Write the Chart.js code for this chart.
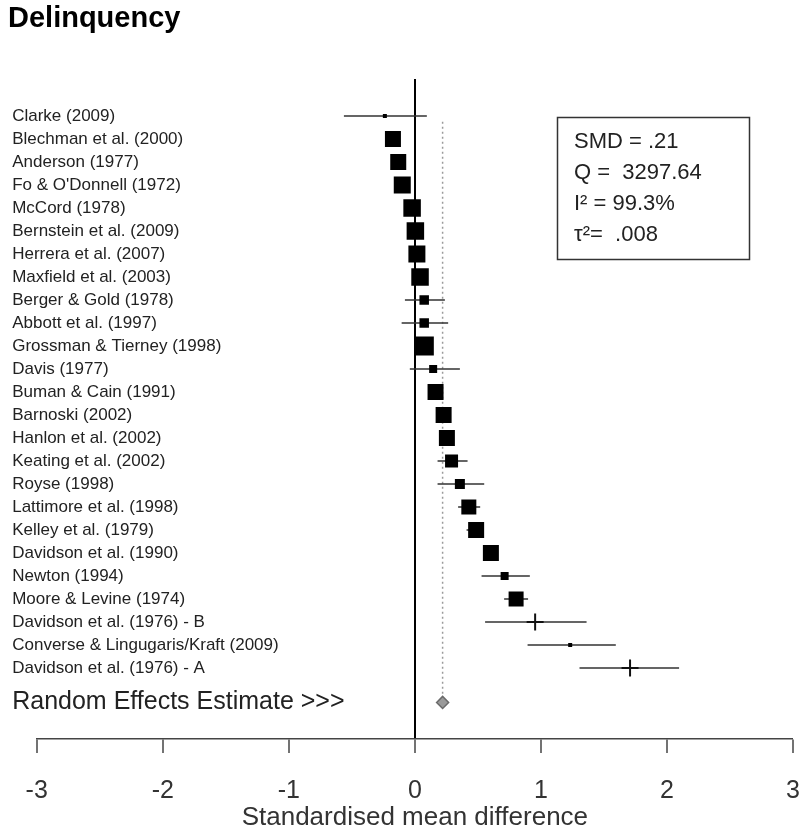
<!DOCTYPE html>
<html><head><meta charset="utf-8">
<style>html,body{margin:0;padding:0;background:#fff}canvas{display:block}</style>
<script src="https://cdn.jsdelivr.net/npm/chart.js@4.4.1/dist/chart.umd.min.js"></script>
</head><body>
<canvas id="c" width="800" height="836"></canvas>
<script>
// ---- data ----
const studies = [
  'Clarke (2009)', 'Blechman et al. (2000)', 'Anderson (1977)', "Fo & O'Donnell (1972)",
  'McCord (1978)', 'Bernstein et al. (2009)', 'Herrera et al. (2007)', 'Maxfield et al. (2003)',
  'Berger & Gold (1978)', 'Abbott et al. (1997)', 'Grossman & Tierney (1998)', 'Davis (1977)',
  'Buman & Cain (1991)', 'Barnoski (2002)', 'Hanlon et al. (2002)', 'Keating et al. (2002)',
  'Royse (1998)', 'Lattimore et al. (1998)', 'Kelley et al. (1979)', 'Davidson et al. (1990)',
  'Newton (1994)', 'Moore & Levine (1974)', 'Davidson et al. (1976) - B',
  'Converse & Lingugaris/Kraft (2009)', 'Davidson et al. (1976) - A'
];
const estimates = [-0.238, -0.174, -0.132, -0.100, -0.022, 0.004, 0.016, 0.041,
  0.074, 0.074, 0.075, 0.145, 0.164, 0.228, 0.254, 0.291,
  0.357, 0.428, 0.486, 0.603, 0.712, 0.803, 0.954, 1.232, 1.707];
const ciLower = [-0.563, -0.22, -0.18, -0.15, -0.07, -0.045, -0.03, -0.005,
  -0.079, -0.105, 0.03, -0.040, 0.12, 0.185, 0.21, 0.180,
  0.180, 0.343, 0.41, 0.56, 0.529, 0.708, 0.557, 0.894, 1.306];
const ciUpper = [0.095, -0.13, -0.09, -0.05, 0.02, 0.05, 0.06, 0.085,
  0.238, 0.264, 0.12, 0.357, 0.20, 0.27, 0.30, 0.418,
  0.550, 0.518, 0.545, 0.645, 0.912, 0.898, 1.362, 1.594, 2.096];
const markerSide = [4, 16, 16, 17, 17.5, 17.5, 17, 17.5,
  9.5, 9.5, 19, 8, 16, 16, 16, 13,
  10, 15, 16, 16, 8, 15, 17, 4, 17];
const markerKind = ['sq','sq','sq','sq','sq','sq','sq','sq',
  'sq','sq','sq','sq','sq','sq','sq','sq',
  'sq','sq','sq','sq','sq','sq','cross','sq','cross'];
const pooledLabel = 'Random Effects Estimate >>>';
const pooledEstimate = 0.22;
const xTicks = [-3, -2, -1, 0, 1, 2, 3];
const statLines = ['SMD = .21', 'Q =  3297.64', 'I\u00B2 = 99.3%', '\u03C4\u00B2=  .008'];

// ---- derived ----
const rows = studies.map((s, i) => i + 1);
const pooledRow = studies.length + 1.5;
const rowTicks = rows.concat([pooledRow]);
const rowLabels = studies.concat([pooledLabel]);
const ciData = [];
rows.forEach((r, i) => {
  ciData.push({x: ciLower[i], y: r}, {x: ciUpper[i], y: r}, {x: null, y: null});
});
const FAM = '"Liberation Sans", Arial, sans-serif';

const statBox = {
  id: 'statBox',
  beforeDraw(chart) {
    const ctx = chart.ctx;
    ctx.save(); ctx.fillStyle = '#fff'; ctx.fillRect(0, 0, chart.width, chart.height); ctx.restore();
  },
  afterDraw(chart) {
    const ctx = chart.ctx;
    ctx.save();
    ctx.strokeStyle = '#333'; ctx.lineWidth = 1.5;
    ctx.strokeRect(557.5, 117.5, 192, 142);
    ctx.fillStyle = '#222';
    ctx.font = '22px ' + FAM;
    ctx.textBaseline = 'middle';
    statLines.forEach((t, i) => ctx.fillText(t, 574, 142 + i * 31));
    ctx.restore();
  }
};

new Chart(document.getElementById('c'), {
  type: 'scatter',
  data: {
    datasets: [
      {
        data: rows.map((r, i) => ({x: estimates[i], y: r})),
        pointStyle: c => markerKind[c.dataIndex] === 'cross' ? 'cross' : 'rect',
        pointRadius: c => markerKind[c.dataIndex] === 'cross' ? markerSide[c.dataIndex] / 2 : markerSide[c.dataIndex] / Math.SQRT2,
        pointBackgroundColor: '#000',
        pointBorderColor: '#111',
        pointBorderWidth: c => markerKind[c.dataIndex] === 'cross' ? 2 : 0,
        order: 0
      },
      {
        data: [{x: pooledEstimate, y: pooledRow}],
        pointStyle: 'rectRot', pointRadius: 6,
        pointBackgroundColor: '#9a9a9a', pointBorderColor: '#6a6a6a', pointBorderWidth: 1.5,
        order: 1
      },
      {
        data: ciData, showLine: true, spanGaps: false, pointRadius: 0,
        borderColor: '#333', borderWidth: 1.5, order: 2
      },
      {
        data: [{x: pooledEstimate, y: 1.25}, {x: pooledEstimate, y: pooledRow}],
        showLine: true, pointRadius: 0, borderColor: '#9a9a9a', borderWidth: 1.5,
        borderDash: [2, 3], order: 3
      }
    ]
  },
  options: {
    responsive: false, animation: false,
    layout: {autoPadding: false, padding: {left: 8, right: 6.7, top: 0, bottom: 0}},
    plugins: {
      legend: {display: false}, tooltip: {enabled: false},
      title: {
        display: true, text: 'Delinquency', align: 'start', color: '#000',
        font: {family: FAM, size: 29, weight: 'bold', lineHeight: 1.2},
        padding: {top: 1.1, bottom: 43.1}
      }
    },
    scales: {
      x: {
        type: 'linear', min: -3, max: 3, position: 'bottom',
        afterBuildTicks: s => { s.ticks = xTicks.map(v => ({value: v})); },
        grid: {
          drawOnChartArea: true, drawTicks: true, tickLength: 14,
          color: c => (c.tick && c.tick.value === 0) ? '#000' : 'rgba(0,0,0,0)',
          lineWidth: c => (c.tick && c.tick.value === 0) ? 2 : 0,
          tickColor: '#444', tickWidth: 1.5
        },
        border: {display: true, color: '#444', width: 1.5},
        ticks: {color: '#333', font: {family: FAM, size: 25, lineHeight: 3.04}, padding: 0, autoSkip: false, maxRotation: 0},
        title: {display: true, text: 'Standardised mean difference', color: '#333',
          font: {family: FAM, size: 26, lineHeight: 1}, padding: {top: -24, bottom: 5}}
      },
      y: {
        type: 'linear', reverse: true, min: -0.61, max: 28.09, position: 'left',
        afterBuildTicks: s => { s.ticks = rowTicks.map(v => ({value: v})); },
        afterFit: s => { s.width = 28.7; s.paddingTop = 0; s.paddingBottom = 0; },
        grid: {display: false, drawTicks: false}, border: {display: false},
        ticks: {
          mirror: true, padding: -24.5, autoSkip: false, color: '#222',
          callback: (v, i) => rowLabels[i],
          font: c => c.index === studies.length ? {family: FAM, size: 25} : {family: FAM, size: 17}
        }
      }
    }
  },
  plugins: [statBox]
});
</script>
</body></html>
